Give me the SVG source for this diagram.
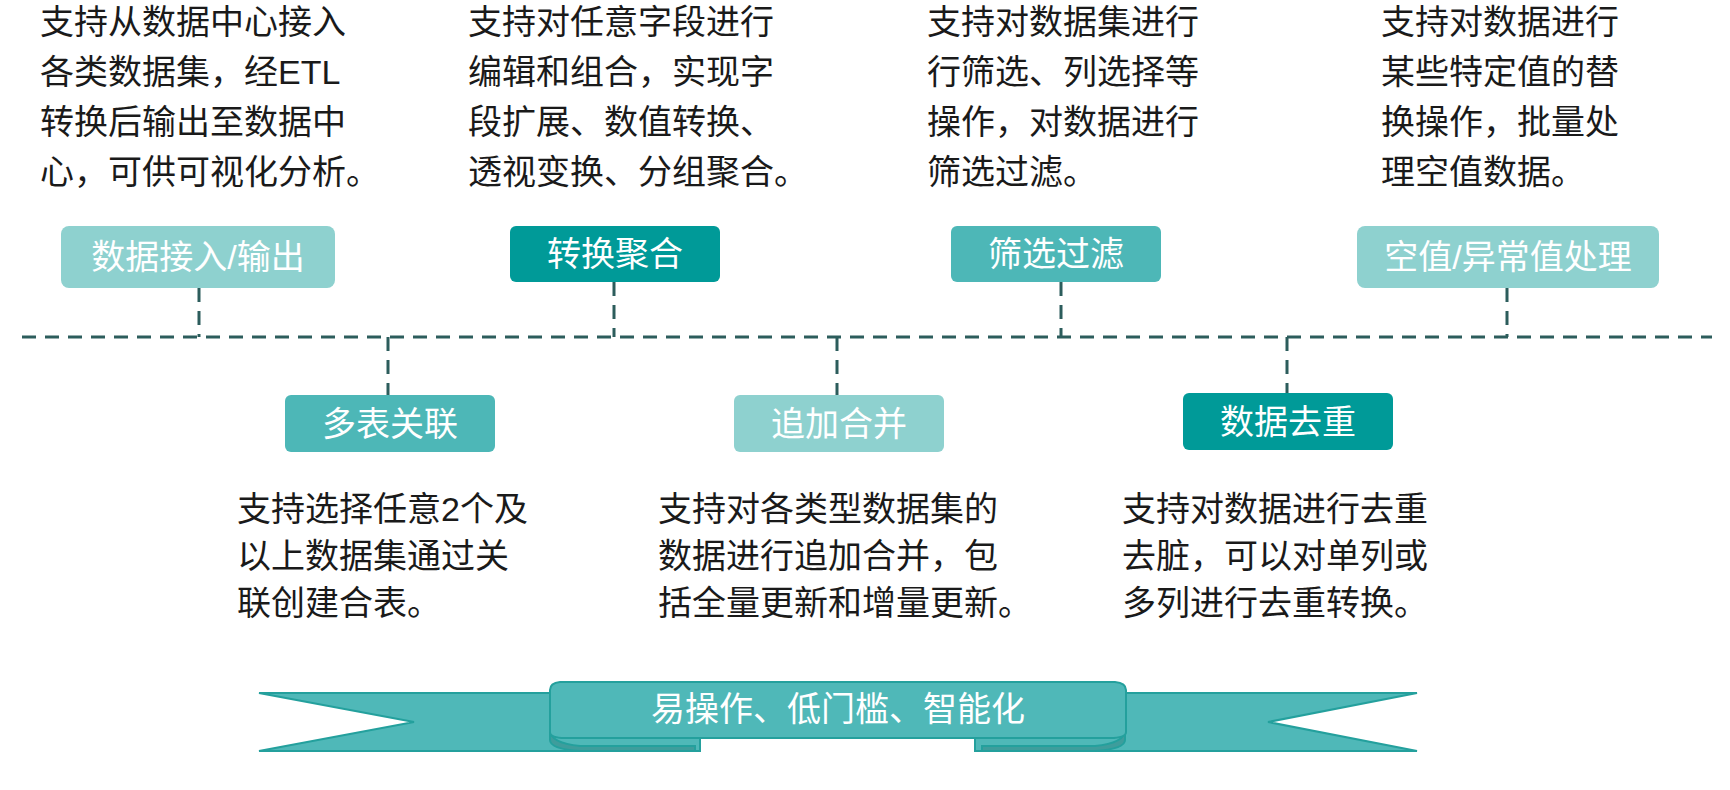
<svg xmlns="http://www.w3.org/2000/svg" width="1730" height="790" viewBox="0 0 1730 790">
<style>
.t{font-family:"Liberation Sans","Noto Sans CJK SC",sans-serif;font-size:34px;fill:#1a1a1a}
.l{font-family:"Liberation Sans","Noto Sans CJK SC",sans-serif;font-size:34px;fill:#fff;text-anchor:middle}
.c{stroke:#2c5d5c;stroke-width:3;stroke-dasharray:14 9;fill:none}
.light{fill:#8ed1cf}.mid{fill:#4db7b7}.dark{fill:#009a98}
</style>
<rect width="1730" height="790" fill="#fff"/>
<g id="connectors">
<line class="c" x1="22" y1="337" x2="1712" y2="337"/>
<line class="c" x1="199" y1="288" x2="199" y2="337"/>
<line class="c" x1="614" y1="282" x2="614" y2="337"/>
<line class="c" x1="1061" y1="282" x2="1061" y2="337"/>
<line class="c" x1="1507" y1="288" x2="1507" y2="337"/>
<line class="c" x1="388" y1="337" x2="388" y2="395"/>
<line class="c" x1="837" y1="337" x2="837" y2="395"/>
<line class="c" x1="1287" y1="337" x2="1287" y2="393"/>
</g>
<g id="n1"><rect class="light" x="61" y="226" width="274" height="62" rx="8"/><text class="l" x="198" y="269">数据接入/输出</text></g>
<g id="n2"><rect class="dark" x="510" y="226" width="210" height="56" rx="6"/><text class="l" x="615" y="266">转换聚合</text></g>
<g id="n3"><rect class="mid" x="951" y="226" width="210" height="56" rx="6"/><text class="l" x="1056" y="266">筛选过滤</text></g>
<g id="n4"><rect class="light" x="1357" y="226" width="302" height="62" rx="8"/><text class="l" x="1508" y="269">空值/异常值处理</text></g>
<g id="n5"><rect class="mid" x="285" y="395" width="210" height="57" rx="6"/><text class="l" x="390" y="436">多表关联</text></g>
<g id="n6"><rect class="light" x="734" y="395" width="210" height="57" rx="6"/><text class="l" x="839" y="436">追加合并</text></g>
<g id="n7"><rect class="dark" x="1183" y="393" width="210" height="57" rx="6"/><text class="l" x="1288" y="434">数据去重</text></g>
<g id="texts">
<text class="t" x="40" y="34">支持从数据中心接入</text>
<text class="t" x="40" y="84">各类数据集，经ETL</text>
<text class="t" x="40" y="134">转换后输出至数据中</text>
<text class="t" x="40" y="184">心，可供可视化分析。</text>
<text class="t" x="468" y="34">支持对任意字段进行</text>
<text class="t" x="468" y="84">编辑和组合，实现字</text>
<text class="t" x="468" y="134">段扩展、数值转换、</text>
<text class="t" x="468" y="184">透视变换、分组聚合。</text>
<text class="t" x="927" y="34">支持对数据集进行</text>
<text class="t" x="927" y="84">行筛选、列选择等</text>
<text class="t" x="927" y="134">操作，对数据进行</text>
<text class="t" x="927" y="184">筛选过滤。</text>
<text class="t" x="1381" y="34">支持对数据进行</text>
<text class="t" x="1381" y="84">某些特定值的替</text>
<text class="t" x="1381" y="134">换操作，批量处</text>
<text class="t" x="1381" y="184">理空值数据。</text>
<text class="t" x="237" y="521">支持选择任意2个及</text>
<text class="t" x="237" y="568">以上数据集通过关</text>
<text class="t" x="237" y="615">联创建合表。</text>
<text class="t" x="658" y="521">支持对各类型数据集的</text>
<text class="t" x="658" y="568">数据进行追加合并，包</text>
<text class="t" x="658" y="615">括全量更新和增量更新。</text>
<text class="t" x="1122" y="521">支持对数据进行去重</text>
<text class="t" x="1122" y="568">去脏，可以对单列或</text>
<text class="t" x="1122" y="615">多列进行去重转换。</text>
</g>
<g id="banner" stroke="#24a09d" stroke-width="2">
<polygon fill="#4fb8b8" points="259,693 700,693 700,751 259,751 414,722"/>
<polygon fill="#4fb8b8" points="1417,693 975,693 975,751 1417,751 1268,722"/>
<path fill="#3e9d9c" d="M550,730 Q550,743 580,746 L695,746 L695,751 L580,751 Q550,749 550,740 Z"/>
<path fill="#3e9d9c" d="M1125,730 Q1125,743 1095,746 L982,746 L982,751 L1095,751 Q1125,749 1125,740 Z"/>
<path fill="#4fb8b8" d="M560,682 L1115,682 Q1126,683 1126,690 L1126,732 Q1126,738 1110,738 L565,738 Q550,738 550,732 L550,690 Q550,683 560,682 Z"/>
<text class="l" x="838" y="721" stroke="none">易操作、低门槛、智能化</text>
</g>
</svg>
